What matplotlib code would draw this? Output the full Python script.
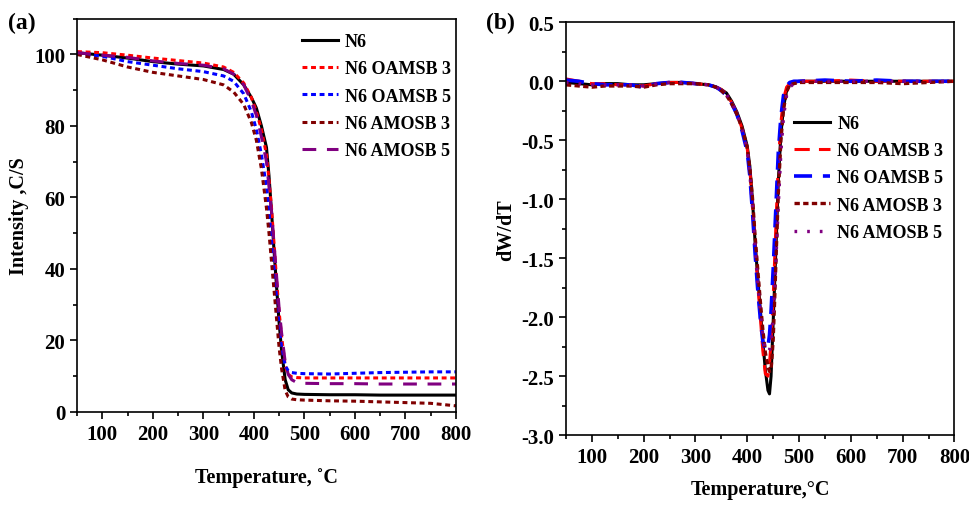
import numpy as np
import matplotlib
matplotlib.use("Agg")
import matplotlib.pyplot as plt

plt.rcParams['font.family'] = ['Liberation Serif', 'DejaVu Serif']
plt.rcParams['font.weight'] = 'bold'
plt.rcParams['axes.unicode_minus'] = False

labels = ["N6", "N6 OAMSB 3", "N6 OAMSB 5", "N6 AMOSB 3", "N6 AMOSB 5"]

# (a) TGA curves
tga_t = [50, 100, 150, 200, 250, 300, 340, 360, 380, 395, 405, 415, 425, 430, 435, 440,
         445, 450, 455, 462, 468, 475, 485, 500, 550, 600, 650, 700, 750, 800]
tga_n6 = [100.5, 99.8, 99.0, 98.0, 97.3, 96.8, 95.8, 94.5, 91.5, 88.0, 85.0, 80.0, 74.0, 66.0,
          56.0, 45.0, 35.0, 25.0, 17.0, 9.0, 6.2, 5.3, 5.0, 4.9, 4.8, 4.8, 4.7, 4.7, 4.7, 4.7]
tga_oa3 = [100.8, 100.5, 99.8, 99.0, 98.3, 97.6, 96.5, 95.0, 92.0, 88.0, 84.0, 79.0, 72.0, 65.0,
           57.0, 47.0, 37.0, 28.0, 21.0, 13.0, 10.5, 9.8, 9.6, 9.5, 9.5, 9.5, 9.5, 9.5, 9.5, 9.5]
tga_oa5 = [100.3, 99.5, 98.0, 97.0, 96.0, 95.2, 94.0, 92.5, 89.0, 84.0, 79.0, 72.0, 63.0, 56.0,
           48.0, 40.0, 32.0, 24.0, 18.0, 13.0, 11.5, 11.0, 10.8, 10.7, 10.6, 10.8, 11.0, 11.1, 11.2, 11.2]
tga_am3 = [100.0, 98.5, 96.5, 95.0, 94.0, 93.0, 91.5, 89.5, 86.0, 81.0, 76.0, 68.0, 57.0, 50.0,
           42.0, 34.0, 26.0, 18.0, 12.0, 6.0, 4.2, 3.6, 3.4, 3.3, 3.1, 3.0, 2.8, 2.6, 2.4, 1.7]
tga_am5 = [100.5, 99.8, 99.2, 98.2, 97.5, 97.0, 96.0, 94.5, 91.5, 87.0, 83.0, 77.0, 70.0, 63.0,
           56.0, 47.0, 38.0, 29.0, 22.0, 14.0, 10.5, 9.0, 8.2, 8.0, 7.9, 7.9, 7.8, 7.8, 7.8, 7.8]

# (b) DTG curves
dtg_t = [50, 75, 100, 125, 150, 175, 200, 225, 250, 275, 300, 325, 340, 350, 360, 370, 380,
         390, 400, 405, 410, 415, 420, 425, 430, 435, 440, 443, 446, 450, 453, 456, 460,
         465, 470, 476, 482, 490, 500, 550, 600, 650, 700, 750, 800]
dtg_n6 = [-0.01, -0.02, -0.03, -0.02, -0.02, -0.03, -0.03, -0.02, -0.01, -0.01, -0.02, -0.03,
          -0.05, -0.07, -0.10, -0.17, -0.26, -0.38, -0.55, -0.72, -1.0, -1.35, -1.65, -1.92,
          -2.2, -2.45, -2.62, -2.65, -2.5, -2.05, -1.7, -1.35, -0.85, -0.45, -0.22, -0.08,
          -0.03, -0.01, 0.0, 0.0, 0.0, 0.0, 0.0, 0.0, 0.0]
dtg_oa3 = [0.02, 0.0, -0.02, -0.02, -0.03, -0.03, -0.04, -0.02, -0.01, -0.01, -0.02, -0.03,
           -0.05, -0.07, -0.11, -0.18, -0.27, -0.4, -0.57, -0.75, -1.02, -1.38, -1.7, -1.98,
           -2.28, -2.48, -2.5, -2.4, -2.2, -1.85, -1.5, -1.15, -0.7, -0.35, -0.15, -0.05,
           -0.02, -0.01, 0.0, 0.0, 0.01, 0.0, 0.0, 0.0, 0.0]
dtg_oa5 = [0.01, 0.0, -0.02, -0.03, -0.03, -0.03, -0.05, -0.02, -0.01, -0.01, -0.02, -0.03,
           -0.05, -0.08, -0.12, -0.19, -0.28, -0.42, -0.6, -0.8, -1.1, -1.45, -1.75, -2.0,
           -2.2, -2.28, -2.25, -2.15, -1.95, -1.6, -1.3, -1.0, -0.6, -0.3, -0.12, -0.04,
           -0.01, 0.0, 0.0, 0.01, 0.0, 0.01, 0.0, 0.0, 0.0]
dtg_am3 = [-0.03, -0.04, -0.05, -0.04, -0.04, -0.04, -0.05, -0.03, -0.02, -0.02, -0.02, -0.03,
           -0.05, -0.08, -0.12, -0.19, -0.28, -0.4, -0.56, -0.74, -0.98, -1.3, -1.58, -1.85,
           -2.1, -2.3, -2.42, -2.46, -2.45, -2.2, -1.85, -1.45, -0.95, -0.5, -0.24, -0.09,
           -0.03, -0.02, -0.01, -0.01, -0.01, -0.01, -0.02, -0.01, 0.0]
dtg_am5 = [-0.01, -0.02, -0.03, -0.03, -0.03, -0.03, -0.04, -0.02, -0.01, -0.01, -0.02, -0.03,
           -0.05, -0.07, -0.11, -0.18, -0.27, -0.4, -0.58, -0.78, -1.05, -1.4, -1.7, -1.95,
           -2.15, -2.27, -2.3, -2.28, -2.2, -2.0, -1.75, -1.45, -1.05, -0.6, -0.3, -0.12,
           -0.05, -0.02, 0.0, 0.0, 0.0, 0.0, 0.0, 0.0, 0.0]

fig = plt.figure(figsize=(9.69, 5.06), dpi=100)
ax1 = fig.add_axes([0.0795, 0.184, 0.391, 0.777])
ax2 = fig.add_axes([0.584, 0.138, 0.401, 0.816])

# panel (a)
ax1.plot(tga_t, tga_n6, color='black', lw=2.2, label=labels[0])
ax1.plot(tga_t, tga_oa3, color='#ff0000', lw=2.2, dashes=(1.6, 1.2), label=labels[1])
ax1.plot(tga_t, tga_oa5, color='#0000ff', lw=2.2, dashes=(1.6, 1.2), label=labels[2])
ax1.plot(tga_t, tga_am3, color='#800000', lw=2.2, dashes=(1.6, 1.2), label=labels[3])
ax1.plot(tga_t, tga_am5, color='#800080', lw=2.2, dashes=(4.5, 3.5), label=labels[4])
ax1.set_xlim(50, 800)
ax1.set_ylim(0, 110)
ax1.set_xticks(range(100, 801, 100))
ax1.set_xticks(range(50, 801, 50), minor=True)
ax1.set_yticks(range(0, 101, 20))
ax1.set_yticks(range(0, 111, 10), minor=True)
ax1.set_xlabel("Temperature, ˚C", fontsize=14.5, fontweight='bold', labelpad=17)
ax1.set_ylabel("Intensity ,C/S", fontsize=14.5, fontweight='bold', labelpad=4)
ax1.legend(loc='upper left', bbox_to_anchor=(0.55, 1.005), frameon=False, fontsize=13,
           handlelength=2.0, handletextpad=0.4, labelspacing=0.57)

# panel (b)
ax2.plot(dtg_t, dtg_n6, color='black', lw=2.2, label=labels[0])
ax2.plot(dtg_t, dtg_oa3, color='#ff0000', lw=2.2, dashes=(5, 3), label=labels[1])
ax2.plot(dtg_t, dtg_oa5, color='#0000ff', lw=2.6, dashes=(5, 3), label=labels[2])
ax2.plot(dtg_t, dtg_am3, color='#800000', lw=2.4, dashes=(1.6, 1.0), label=labels[3])
ax2.plot(dtg_t, dtg_am5, color='#800080', lw=2.4, dashes=(0.8, 3), label=labels[4])
ax2.set_xlim(50, 800)
ax2.set_ylim(-3.0, 0.5)
ax2.set_xticks(range(100, 801, 100))
ax2.set_xticks(range(50, 801, 50), minor=True)
ax2.set_yticks(np.arange(-3.0, 0.51, 0.5))
ax2.set_yticks(np.arange(-3.0, 0.51, 0.25), minor=True)
ax2.yaxis.set_major_formatter(matplotlib.ticker.FormatStrFormatter('%.1f'))
ax2.set_xlabel("Temperature,°C", fontsize=14.5, fontweight='bold', labelpad=9)
ax2.set_ylabel("dW/dT", fontsize=14.5, fontweight='bold', labelpad=4)
ax2.legend(loc='upper left', bbox_to_anchor=(0.545, 0.815), frameon=False, fontsize=13,
           handlelength=2.0, handletextpad=0.4, labelspacing=0.57)

for ax in (ax1, ax2):
    ax.tick_params(which='both', direction='out', top=False, right=False, width=1.2)
    ax.tick_params(which='major', length=5, labelsize=15)
    ax.tick_params(which='minor', length=3)
    for lab in ax.get_xticklabels() + ax.get_yticklabels():
        lab.set_fontweight('bold')
    for sp in ax.spines.values():
        sp.set_linewidth(1.2)

fig.text(0.008, 0.975, "(a)", fontsize=17, fontweight='bold', va='top')
fig.text(0.502, 0.975, "(b)", fontsize=17, fontweight='bold', va='top')

fig.savefig("out.png", dpi=100)
